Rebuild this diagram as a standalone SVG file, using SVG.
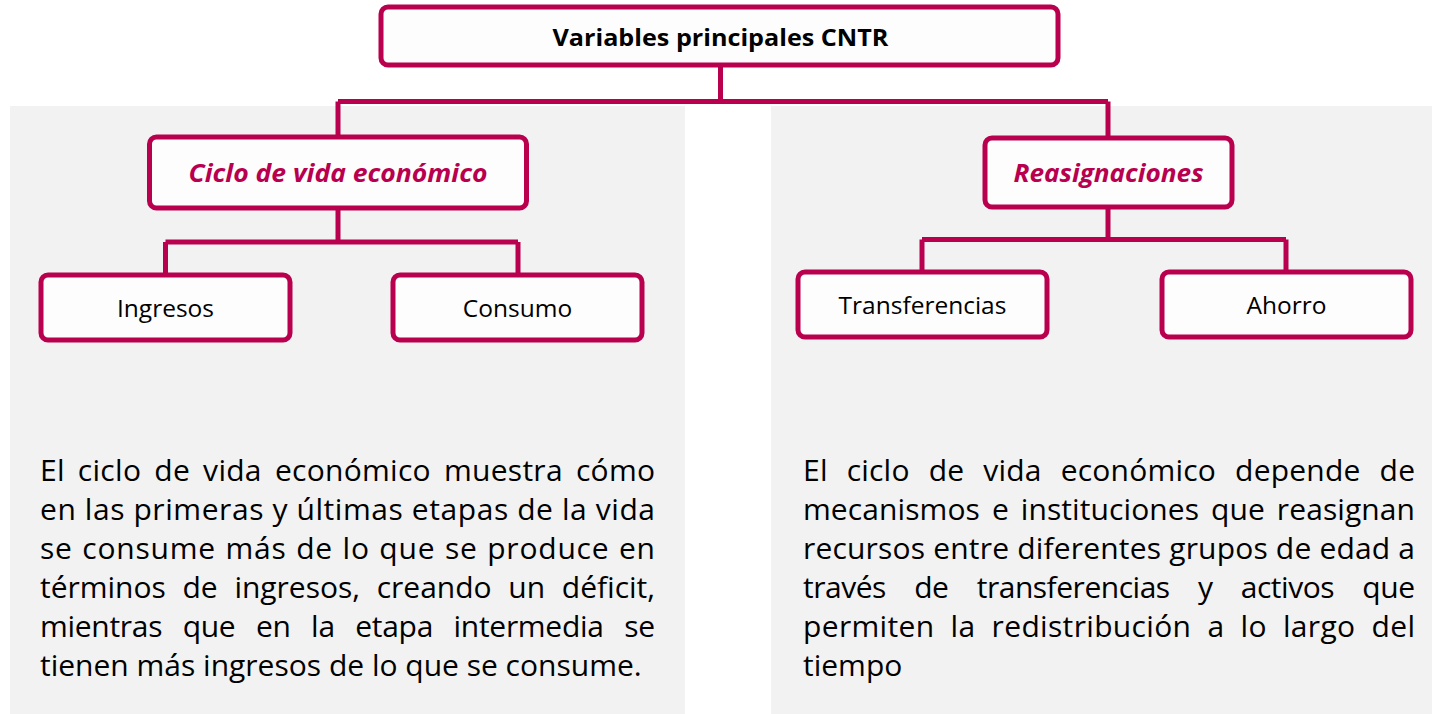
<svg xmlns="http://www.w3.org/2000/svg" width="1432" height="714" viewBox="0 0 1432 714">
<style>
.panel{fill:#F2F2F2;stroke:none}
.box{fill:#FDFDFD;stroke:#B8004F;stroke-width:5}
.conn{fill:none;stroke:#B8004F;stroke-width:5}
.t{font-family:"Open Sans","Noto Sans","Liberation Sans",sans-serif;fill:#000}
.title{font-size:23px;font-weight:bold;text-anchor:middle}
.sub{font-size:25px;font-weight:bold;font-style:italic;fill:#B8004F;text-anchor:middle}
.leaf{font-size:24.5px;text-anchor:middle}
.para{font-size:30px}
</style>
<rect class="panel" x="10" y="106" width="675" height="608"/>
<rect class="panel" x="771" y="106" width="661" height="608"/>
<g id="connectors">
<path class="conn" d="M720.5 65 V101.5 M338 101.5 H1108 M338 101.5 V137 M1108 101.5 V138"/>
<path class="conn" d="M338 208 V242 M165.5 242 H518 M165.5 242 V275 M518 242 V275"/>
<path class="conn" d="M1108 207 V239.5 M922 239.5 H1286 M922 239.5 V272 M1286 239.5 V272"/>
</g>
<g id="node-root">
<rect class="box" x="381" y="7" width="677" height="58" rx="7"/>
<text class="t title" x="720.5" y="46" textLength="336" lengthAdjust="spacingAndGlyphs">Variables principales CNTR</text>
</g>
<g id="node-ciclo">
<rect class="box" x="149.5" y="137" width="377" height="71" rx="7"/>
<text class="t sub" x="338" y="182" textLength="299" lengthAdjust="spacingAndGlyphs">Ciclo de vida económico</text>
</g>
<g id="node-reasignaciones">
<rect class="box" x="985" y="138" width="247" height="69" rx="7"/>
<text class="t sub" x="1108.5" y="182" textLength="190" lengthAdjust="spacingAndGlyphs">Reasignaciones</text>
</g>
<g id="node-ingresos">
<rect class="box" x="41" y="275" width="249" height="65" rx="7"/>
<text class="t leaf" x="165.5" y="316.5">Ingresos</text>
</g>
<g id="node-consumo">
<rect class="box" x="393" y="275" width="249" height="65" rx="7"/>
<text class="t leaf" x="517.5" y="316.5">Consumo</text>
</g>
<g id="node-transferencias">
<rect class="box" x="798" y="272" width="249" height="65" rx="7"/>
<text class="t leaf" x="922.5" y="313.5">Transferencias</text>
</g>
<g id="node-ahorro">
<rect class="box" x="1162" y="272" width="249" height="65" rx="7"/>
<text class="t leaf" x="1286.5" y="313.5">Ahorro</text>
</g>
<g id="text-left">
<text class="t para" x="40" y="481" word-spacing="5" textLength="615" lengthAdjust="spacing">El ciclo de vida económico muestra cómo</text>
<text class="t para" x="40" y="520" word-spacing="0" textLength="615" lengthAdjust="spacing">en las primeras y últimas etapas de la vida</text>
<text class="t para" x="40" y="559" word-spacing="1" textLength="615" lengthAdjust="spacing">se consume más de lo que se produce en</text>
<text class="t para" x="40" y="598" word-spacing="9" textLength="615" lengthAdjust="spacing">términos de ingresos, creando un déficit,</text>
<text class="t para" x="40" y="637" word-spacing="13" textLength="615" lengthAdjust="spacing">mientras que en la etapa intermedia se</text>
<text class="t para" x="40" y="676">tienen más ingresos de lo que se consume.</text>
</g>
<g id="text-right">
<text class="t para" x="803" y="481" word-spacing="11" textLength="612" lengthAdjust="spacing">El ciclo de vida económico depende de</text>
<text class="t para" x="803" y="520" word-spacing="4" textLength="612" lengthAdjust="spacing">mecanismos e instituciones que reasignan</text>
<text class="t para" x="803" y="559" word-spacing="0" textLength="612" lengthAdjust="spacing">recursos entre diferentes grupos de edad a</text>
<text class="t para" x="803" y="598" word-spacing="21" textLength="612" lengthAdjust="spacing">través de transferencias y activos que</text>
<text class="t para" x="803" y="637" word-spacing="8" textLength="612" lengthAdjust="spacing">permiten la redistribución a lo largo del</text>
<text class="t para" x="803" y="676">tiempo</text>
</g>
</svg>
